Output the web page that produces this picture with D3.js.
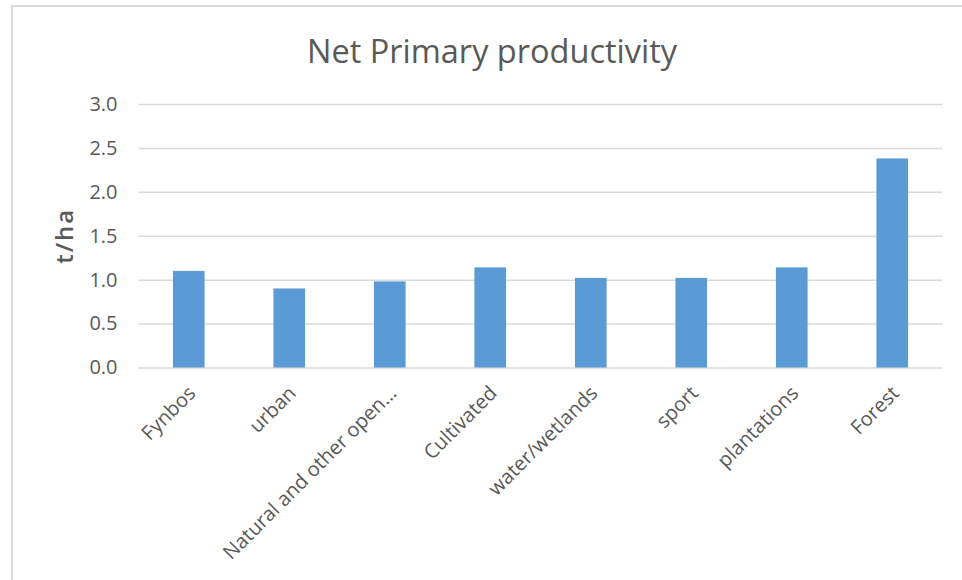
<!DOCTYPE html>
<html>
<head>
<meta charset="utf-8">
<script src="https://cdn.jsdelivr.net/npm/d3@7"></script>
<style>
  html, body { margin: 0; padding: 0; background: #fff; }
  svg { display: block; }
  text { font-family: "Open Sans", "DejaVu Sans", sans-serif; fill: #595959; }
</style>
</head>
<body>
<svg id="chart" width="962" height="580"></svg>
<script>
const title = "Net Primary productivity";
const yAxisTitle = "t/ha";
const categories = ["Fynbos", "urban", "Natural and other open…", "Cultivated", "water/wetlands", "sport", "plantations", "Forest"];
const values = [1.10, 0.90, 0.98, 1.14, 1.02, 1.02, 1.14, 2.38];
const yTicks = [0, 0.5, 1.0, 1.5, 2.0, 2.5, 3.0];

const svg = d3.select("#chart");
const W = 962, H = 580;
const margin = { left: 138.5, right: 962 - 942.5, top: 104, bottom: 580 - 367.5 };

// outer chart border (only top/left visible)
svg.append("rect")
  .attr("x", 12).attr("y", 6)
  .attr("width", 980).attr("height", 600)
  .attr("fill", "none").attr("stroke", "#d9d9d9").attr("stroke-width", 2);

const x = d3.scaleBand()
  .domain(categories)
  .range([margin.left, W - margin.right])
  .paddingInner(0.685).paddingOuter(0.3425);

const y = d3.scaleLinear().domain([0, 3]).range([H - margin.bottom, margin.top]);

// gridlines via axis
const grid = svg.append("g")
  .attr("transform", `translate(${margin.left},0)`)
  .call(d3.axisLeft(y).tickValues(yTicks).tickSize(-(W - margin.right - margin.left)).tickFormat(""));
grid.select(".domain").remove();
grid.selectAll(".tick line").attr("stroke", "#d9d9d9").attr("stroke-width", 1.5);

// y tick labels
const yAxis = svg.append("g")
  .attr("transform", `translate(${margin.left - 21},0)`)
  .call(d3.axisLeft(y).tickValues(yTicks).tickSize(0).tickPadding(0).tickFormat(d3.format(".1f")));
yAxis.select(".domain").remove();
yAxis.selectAll("text")
  .style("font-family", "'Open Sans', sans-serif")
  .attr("fill", "#595959")
  .style("font-size", "20px");

// bars
svg.append("g").selectAll("rect")
  .data(values)
  .join("rect")
  .attr("x", (d, i) => x(categories[i]))
  .attr("y", d => y(d))
  .attr("width", x.bandwidth())
  .attr("height", d => y(0) - y(d))
  .attr("fill", "#5b9bd5");

// x axis labels
const xAxis = svg.append("g")
  .attr("transform", `translate(0,${y(0)})`)
  .call(d3.axisBottom(x).tickSize(0).tickPadding(0));
xAxis.select(".domain").remove();
xAxis.selectAll("text")
  .style("font-family", "'Open Sans', sans-serif")
  .attr("fill", "#595959")
  .style("font-size", "20px")
  .attr("text-anchor", "end")
  .attr("dy", "0.35em")
  .attr("transform", "translate(3,22) rotate(-45)");

// title
svg.append("text")
  .attr("x", 492).attr("y", 63)
  .attr("text-anchor", "middle")
  .style("font-size", "32.5px")
  .text(title);

// y axis title
svg.append("text")
  .attr("transform", `translate(73,${y(1.5)}) rotate(-90)`)
  .attr("text-anchor", "middle")
  .style("font-size", "24px")
  .style("letter-spacing", "2px")
  .style("font-weight", "600")
  .text(yAxisTitle);
</script>
</body>
</html>
